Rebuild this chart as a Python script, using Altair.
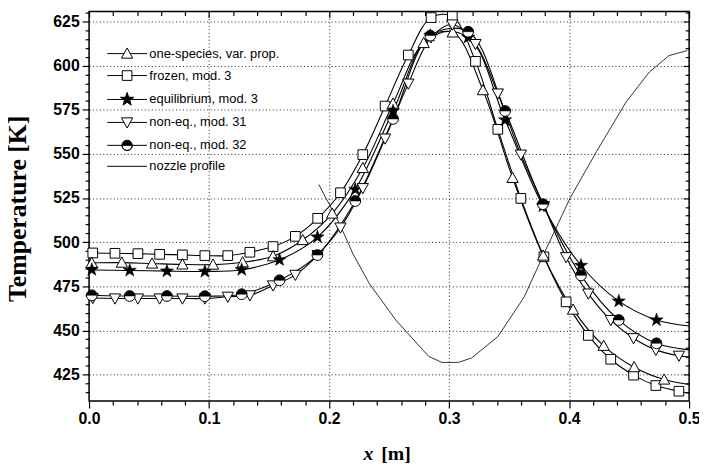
import math
import altair as alt
import pandas as pd

# ---------------- data ----------------
labels = ["one-species, var. prop.", "frozen, mod. 3", "equilibrium, mod. 3",
          "non-eq., mod. 31", "non-eq., mod. 32", "nozzle profile"]

# marker positions shared by "frozen" and "non-eq., mod. 31"
x27 = [0.0031, 0.0216, 0.0407, 0.0588, 0.0778, 0.0965, 0.1156, 0.134, 0.1533, 0.1719,
       0.1905, 0.2095, 0.2281, 0.2467, 0.266, 0.285, 0.3027, 0.322, 0.3406, 0.3598,
       0.379, 0.3975, 0.416, 0.4347, 0.4537, 0.4723, 0.4915]
frozen_T = [493.9, 493.7, 493.5, 493.1, 492.8, 492.4, 492.4, 494.3, 497.5, 503.3,
            513.5, 528.0, 549.6, 577.1, 606.0, 627.2, 627.8, 602.4, 563.9, 524.8,
            491.7, 466.2, 447.2, 433.7, 424.7, 418.8, 415.6]
mod31_T = [468.4, 468.1, 468.1, 468.1, 468.1, 468.1, 469.1, 469.9, 475.5, 481.5,
           492.7, 508.3, 530.6, 558.7, 589.8, 616.0, 623.3, 612.2, 584.2, 549.6,
           520.5, 491.5, 470.9, 455.9, 445.6, 439.0, 435.7]

# one-species markers
x20 = [0.0023, 0.0273, 0.0525, 0.0778, 0.1033, 0.128, 0.1533, 0.178, 0.2026, 0.2281,
       0.2533, 0.2788, 0.303, 0.3282, 0.3529, 0.3784, 0.4033, 0.4288, 0.4542, 0.4792]
onesp_T = [488.3, 488.4, 487.9, 487.4, 487.3, 488.6, 492.0, 501.2, 516.2, 542.0,
           578.5, 612.8, 618.8, 586.1, 536.4, 492.4, 461.8, 441.3, 429.2, 422.2]

# markers shared by "equilibrium" and "non-eq., mod. 32"
x16 = [0.0023, 0.0339, 0.0649, 0.0965, 0.1272, 0.1587, 0.1903, 0.2218, 0.2533, 0.2844,
       0.3159, 0.3467, 0.3782, 0.4099, 0.4414, 0.4728]
equil_T = [484.4, 484.0, 483.6, 483.4, 484.4, 490.0, 502.9, 529.9, 574.3, 617.0,
           616.0, 569.2, 520.5, 486.8, 466.6, 455.9]
mod32_T = [469.9, 469.5, 469.5, 469.4, 470.5, 478.4, 492.7, 523.3, 569.8, 617.0,
           619.2, 574.3, 521.5, 481.2, 455.9, 442.7]

# curve values at the left (x=0) and right (x=0.5) borders
start_T = [488.3, 494.0, 484.5, 468.5, 470.0]
end_T = [419.4, 414.5, 452.5, 435.0, 439.0]

# nozzle profile (thin line)
noz_x = [0.1914, 0.2089, 0.2199, 0.2336, 0.2556, 0.283, 0.294, 0.3077, 0.3187, 0.3406,
         0.3626, 0.379, 0.401, 0.4229, 0.4476, 0.4668, 0.4833, 0.4984]
noz_T = [532.7, 510.2, 493.4, 476.5, 455.9, 435.3, 431.9, 431.9, 434.4, 446.5,
         469.0, 493.4, 525.2, 551.4, 579.5, 596.3, 605.7, 608.5]

x_major = [0.0, 0.1, 0.2, 0.3, 0.4, 0.5]
x_minor = [0.02, 0.04, 0.06, 0.08, 0.12, 0.14, 0.16, 0.18, 0.22, 0.24, 0.26, 0.28,
           0.32, 0.34, 0.36, 0.38, 0.42, 0.44, 0.46, 0.48]
y_major = [425, 450, 475, 500, 525, 550, 575, 600, 625]
y_minor = [415, 420, 430, 435, 440, 445, 455, 460, 465, 470, 480, 485, 490, 495,
           505, 510, 515, 520, 530, 535, 540, 545, 555, 560, 565, 570, 580, 585,
           590, 595, 605, 610, 615, 620, 630]

# ---------------- tables ----------------
series = [(labels[0], x20, onesp_T), (labels[1], x27, frozen_T), (labels[2], x16, equil_T),
          (labels[3], x27, mod31_T), (labels[4], x16, mod32_T)]
rows = []
for i, (name, xs_, ts_) in enumerate(series):
    rows.append({"series": name, "x": 0.0, "T": start_T[i], "o": 0})
    for j, (a, b) in enumerate(zip(xs_, ts_)):
        rows.append({"series": name, "x": a, "T": b, "o": j + 1})
    rows.append({"series": name, "x": 0.5, "T": end_T[i], "o": len(xs_) + 1})
lines_df = pd.DataFrame(rows)
mk = {name: pd.DataFrame({"x": xs_, "T": ts_}) for name, xs_, ts_ in series}
noz_df = pd.DataFrame({"x": noz_x, "T": noz_T, "o": list(range(len(noz_x)))})
leg_df = pd.DataFrame({"label": labels, "x": [0.0] * 6, "T": [500.0] * 6})

# ---------------- styling ----------------
W, H = 607, 394
SANS = "Liberation Sans"
SERIF = "Liberation Serif"
MS = 118  # marker size
XS = alt.Scale(domain=[0, 0.5], nice=False, zero=False)
YS = alt.Scale(domain=[410, 630.6], nice=False, zero=False)


def poly(pts, close=True):
    s = "M" + "L".join(f"{px:.3f},{py:.3f}" for px, py in pts)
    return s + ("Z" if close else "")


SQ = poly([(-0.9, -0.9), (0.9, -0.9), (0.9, 0.9), (-0.9, 0.9)])
TU = poly([(0, -1.05), (1.05, 0.85), (-1.05, 0.85)])
TD = poly([(0, 1.05), (1.05, -0.85), (-1.05, -0.85)])
STAR = poly([((1.3 if k % 2 == 0 else 0.52) * math.cos(-math.pi / 2 + k * math.pi / 5),
              (1.3 if k % 2 == 0 else 0.52) * math.sin(-math.pi / 2 + k * math.pi / 5))
             for k in range(10)])
HALF = poly([(0.95 * math.cos(math.pi + math.pi * i / 16), 0.95 * math.sin(math.pi + math.pi * i / 16))
             for i in range(17)])
arc_b = [(0.95 * math.cos(math.pi * i / 16), 0.95 * math.sin(math.pi * i / 16)) for i in range(17)]
BOTARC = poly(arc_b + arc_b[::-1])


def seg(a):
    return f"M-3.7,0H{-a}M{a},0H3.7"


leg_paths = [seg(0.58) + TU, seg(0.9) + SQ, "M-3.7,0H3.7" + STAR, seg(0.58) + TD,
             seg(0.95) + HALF + BOTARC, "M-3.7,0H3.7"]
leg_fills = ["white", "white", "black", "white", "black", "transparent"]
leg_strokes = ["black"] * 6

tick_common = dict(tickColor="black", tickWidth=1.2, domain=False, labelFlush=False)

ax_x_major = alt.Axis(values=x_major, format=".1f", grid=True, gridDash=[1, 2.5], gridColor="#222",
                      gridWidth=1, tickSize=7, labelFont=SANS, labelFontWeight="bold",
                      labelFontSize=16, labelColor="black", labelPadding=3,
                      title="[m]", titleFont=SERIF, titleFontWeight="bold", titleFontSize=20,
                      titleColor="black", titleX=295, titleY=59, titleAlign="left",
                      titleBaseline="alphabetic", orient="bottom", offset=0, **tick_common)
ax_x_minor = alt.Axis(values=x_minor, labels=False, grid=False, tickSize=4, orient="bottom", offset=0,
                      title="x", titleFont=SERIF, titleFontWeight="bold", titleFontStyle="italic",
                      titleFontSize=20, titleColor="black", titleX=277, titleY=59, titleAlign="left",
                      titleBaseline="alphabetic", **tick_common)
ax_y_major = alt.Axis(values=y_major, format="d", grid=True, gridDash=[1, 2.5], gridColor="#222",
                      gridWidth=1, tickSize=7, labelFont=SANS, labelFontWeight="bold",
                      labelFontSize=16, labelColor="black", labelPadding=3,
                      title="Temperature [K]", titleFont=SERIF, titleFontWeight="bold",
                      titleFontSize=26, titleColor="black", titleX=-72, titleY=199, titleAngle=270,
                      titleAlign="center", titleBaseline="middle", orient="left", offset=0,
                      **tick_common)
ax_y_minor = alt.Axis(values=y_minor, labels=False, grid=False, tickSize=4, orient="left", offset=0,
                      title=None, **tick_common)
ax_top_major = alt.Axis(values=x_major, labels=False, grid=False, tickSize=6, orient="bottom",
                        offset=-H, title=None, **tick_common)
ax_top_minor = alt.Axis(values=x_minor, labels=False, grid=False, tickSize=4, orient="bottom",
                        offset=-H, title=None, **tick_common)
ax_right_major = alt.Axis(values=y_major, labels=False, grid=False, tickSize=6, orient="left",
                          offset=-W, title=None, **tick_common)
ax_right_minor = alt.Axis(values=y_minor, labels=False, grid=False, tickSize=4, orient="left",
                          offset=-W, title=None, **tick_common)

lines = alt.Chart(lines_df).mark_line(interpolate="catmull-rom", color="black", strokeWidth=1.1).encode(
    x=alt.X("x:Q", scale=XS, axis=ax_x_major),
    y=alt.Y("T:Q", scale=YS, axis=ax_y_major),
    detail="series:N", order="o:Q")

nozzle = alt.Chart(noz_df).mark_line(color="black", strokeWidth=0.8).encode(
    x=alt.X("x:Q", scale=XS, axis=ax_x_minor),
    y=alt.Y("T:Q", scale=YS, axis=ax_y_minor),
    order="o:Q")


def pts(df, shape, fill, sw=1.0, ax=None, ay=None):
    return alt.Chart(df).mark_point(shape=shape, size=MS, filled=True, fill=fill, stroke="black",
                                    strokeWidth=sw, opacity=1).encode(
        x=alt.X("x:Q", scale=XS, axis=ax), y=alt.Y("T:Q", scale=YS, axis=ay))


p_sq = pts(mk[labels[1]], SQ, "white", ax=ax_top_major, ay=ax_right_major)
p_tu = pts(mk[labels[0]], TU, "white", ax=ax_top_minor, ay=ax_right_minor)
p_st = pts(mk[labels[2]], STAR, "black", sw=0.5)
p_td = pts(mk[labels[3]], TD, "white")
p_ci = pts(mk[labels[4]], "circle", "white")
p_ha = pts(mk[labels[4]], HALF, "black", sw=0.5)

LEG = alt.Legend(title=None, orient="none", legendX=15, legendY=36, symbolSize=MS,
                 symbolStrokeWidth=1, symbolStrokeColor="black", symbolOffset=17, labelOffset=16,
                 labelFont=SANS, labelFontSize=13, labelColor="black", rowPadding=7.2, padding=0,
                 labelLimit=400, symbolOpacity=1)

legend_layer = alt.Chart(leg_df).transform_filter("false").mark_point(
    filled=True, strokeWidth=1, size=MS, opacity=1).encode(
    x=alt.X("x:Q", scale=XS, axis=None),
    y=alt.Y("T:Q", scale=YS, axis=None),
    shape=alt.Shape("label:N", scale=alt.Scale(domain=labels, range=leg_paths), legend=LEG),
    fill=alt.Fill("label:N", scale=alt.Scale(domain=labels, range=leg_fills), legend=LEG),
    stroke=alt.Stroke("label:N", scale=alt.Scale(domain=labels, range=leg_strokes), legend=LEG))

chart = alt.layer(lines, nozzle, p_sq, p_tu, p_st, p_td, p_ci, p_ha, legend_layer).resolve_axis(
    x="independent", y="independent").properties(
    width=W, height=H, autosize=alt.AutoSizeParams(type="none"),
    padding={"left": 82, "top": 1, "right": 10, "bottom": 60}).configure_view(
    stroke="black", strokeWidth=1.5)

chart.save("out.html", embed_options={"renderer": "svg", "actions": False})
